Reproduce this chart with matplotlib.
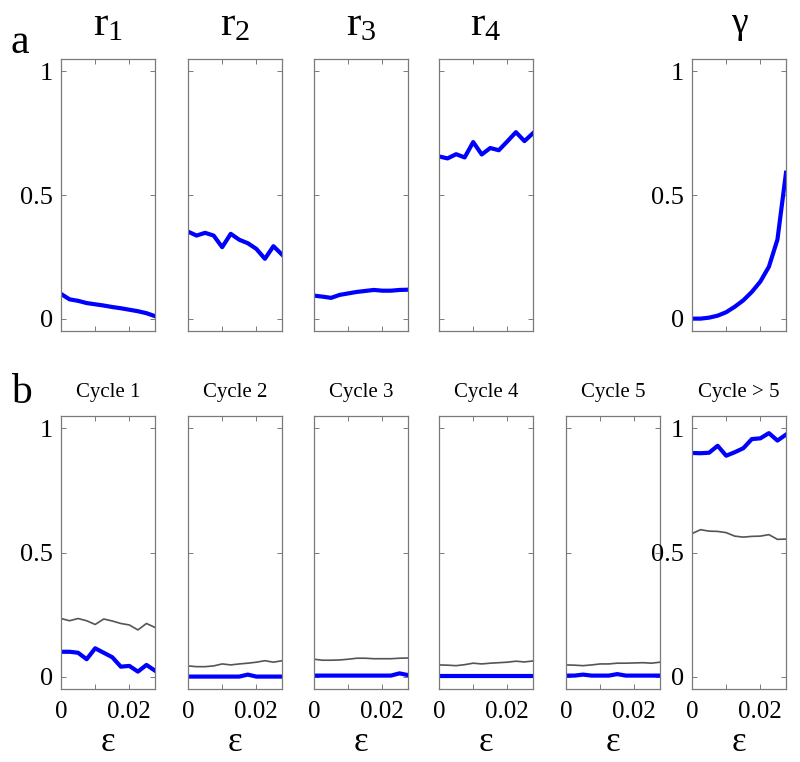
import numpy as np
import matplotlib
matplotlib.use('Agg')
import matplotlib.pyplot as plt

plt.rcParams['font.family'] = ['Liberation Serif', 'DejaVu Serif']
plt.rcParams['mathtext.fontset'] = 'custom'
plt.rcParams['mathtext.rm'] = 'Liberation Serif'

## epsilon samples (0 : 0.0025 : 0.0275)
eps = [0, 0.0025, 0.005, 0.0075, 0.01, 0.0125, 0.015, 0.0175, 0.02, 0.0225, 0.025, 0.0275]

## panel a
r1 = [0.100, 0.078, 0.072, 0.063, 0.058, 0.053, 0.047, 0.042, 0.036, 0.030, 0.022, 0.010]
r2 = [0.352, 0.336, 0.347, 0.336, 0.289, 0.343, 0.319, 0.305, 0.282, 0.242, 0.293, 0.259]
r3 = [0.093, 0.089, 0.084, 0.096, 0.102, 0.108, 0.112, 0.116, 0.113, 0.113, 0.116, 0.117]
r4 = [0.656, 0.648, 0.665, 0.652, 0.714, 0.664, 0.690, 0.681, 0.717, 0.754, 0.718, 0.750]
gamma = [0.0, 0.0, 0.004, 0.012, 0.026, 0.048, 0.074, 0.108, 0.150, 0.210, 0.320, 0.590]

## panel b: blue = thick line, grey = thin line
cyc1_blue = [0.100, 0.100, 0.096, 0.070, 0.114, 0.096, 0.078, 0.040, 0.043, 0.020, 0.047, 0.024]
cyc1_grey = [0.234, 0.225, 0.234, 0.225, 0.210, 0.232, 0.224, 0.214, 0.208, 0.188, 0.214, 0.198]
cyc2_blue = [0.0, 0.0, 0.0, 0.0, 0.0, 0.0, 0.0, 0.008, 0.0, 0.0, 0.0, 0.0]
cyc2_grey = [0.043, 0.040, 0.040, 0.043, 0.051, 0.047, 0.051, 0.054, 0.058, 0.064, 0.058, 0.064]
cyc3_blue = [0.004, 0.004, 0.004, 0.004, 0.004, 0.004, 0.004, 0.004, 0.004, 0.004, 0.013, 0.006]
cyc3_grey = [0.070, 0.066, 0.066, 0.067, 0.070, 0.074, 0.074, 0.072, 0.072, 0.072, 0.074, 0.075]
cyc4_blue = [0.004, 0.004, 0.004, 0.004, 0.004, 0.004, 0.004, 0.004, 0.004, 0.004, 0.004, 0.004]
cyc4_grey = [0.047, 0.046, 0.044, 0.048, 0.054, 0.051, 0.054, 0.056, 0.058, 0.062, 0.059, 0.063]
cyc5_blue = [0.004, 0.004, 0.008, 0.004, 0.004, 0.004, 0.010, 0.004, 0.004, 0.004, 0.004, 0.004]
cyc5_grey = [0.047, 0.046, 0.044, 0.047, 0.051, 0.051, 0.054, 0.054, 0.055, 0.056, 0.054, 0.058]
cyc6_blue = [0.901, 0.900, 0.902, 0.930, 0.890, 0.904, 0.920, 0.957, 0.960, 0.981, 0.951, 0.975]
cyc6_grey = [0.576, 0.592, 0.586, 0.585, 0.580, 0.566, 0.562, 0.565, 0.566, 0.572, 0.553, 0.554]

top_titles = [r'$\mathregular{r_1}$', r'$\mathregular{r_2}$', r'$\mathregular{r_3}$', r'$\mathregular{r_4}$', None, 'γ']
top_data = [r1, r2, r3, r4, None, gamma]
bot_titles = ['Cycle 1', 'Cycle 2', 'Cycle 3', 'Cycle 4', 'Cycle 5', 'Cycle > 5']
bot_blue = [cyc1_blue, cyc2_blue, cyc3_blue, cyc4_blue, cyc5_blue, cyc6_blue]
bot_grey = [cyc1_grey, cyc2_grey, cyc3_grey, cyc4_grey, cyc5_grey, cyc6_grey]

W, H = 800, 762
lefts = [61, 188, 314, 439, 566, 692]
ax_w = 94
BLUE = '#0000ff'
GREY = '#555555'
FRAME = '#7a7a7a'


def style(axes, show_y, show_x):
    axes.set_xlim(0, 0.0275)
    axes.set_ylim(-0.05, 1.05)
    axes.set_xticks([0, 0.01, 0.02])
    axes.set_yticks([0, 0.5, 1])
    axes.set_yticklabels(['0', '0.5', '1'] if show_y else [])
    axes.set_xticklabels(['0', '', '0.02'] if show_x else [])
    axes.tick_params(direction='in', top=True, right=True, length=3.5,
                     width=0.7, color=FRAME)
    axes.tick_params(axis='y', pad=6, labelsize=19)
    axes.tick_params(axis='x', pad=9, labelsize=18)
    for s in axes.spines.values():
        s.set_color(FRAME)
        s.set_linewidth(0.9)


fig = plt.figure(figsize=(W / 100, H / 100), dpi=100)

## top row
for i in range(6):
    if top_data[i] is None:
        continue
    axes = fig.add_axes([lefts[i] / W, 1 - 331 / H, ax_w / W, 272 / H])
    axes.plot(eps, top_data[i], color=BLUE, lw=3)
    style(axes, i in (0, 5), False)
    if i == 5:
        axes.set_title(top_titles[i], fontsize=27, pad=19)
    else:
        axes.set_title(top_titles[i], fontsize=31, pad=17)

## bottom row
for i in range(6):
    axes = fig.add_axes([lefts[i] / W, 1 - 689 / H, ax_w / W, 273 / H])
    axes.plot(eps, bot_grey[i], color=GREY, lw=1.2)
    axes.plot(eps, bot_blue[i], color=BLUE, lw=3)
    style(axes, i in (0, 5), True)
    axes.set_title(bot_titles[i], fontsize=15, pad=14)
    axes.set_xlabel('ε', fontsize=25, labelpad=2)

fig.text(20 / W, 1 - 53 / H, 'a', fontsize=30, ha='center', va='baseline')
fig.text(21 / W, 1 - 403 / H, 'b', fontsize=30, ha='center', va='baseline')

fig.savefig('out.png', dpi=100)
